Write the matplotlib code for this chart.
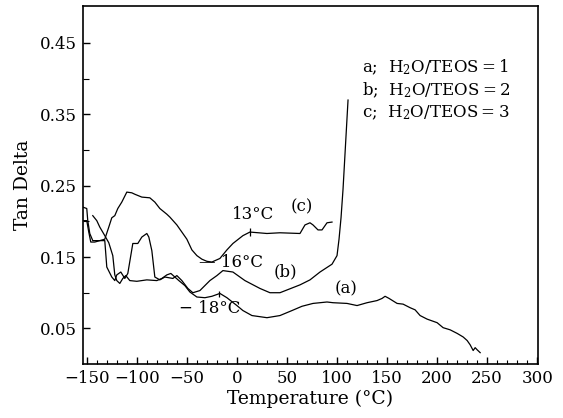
import numpy as np
import matplotlib
matplotlib.use('Agg')
import matplotlib.pyplot as plt
from matplotlib.ticker import MultipleLocator

SMALL_SIZE = 12
MEDIUM_SIZE = 13.5
plt.rcParams['font.family'] = ['DejaVu Serif']
plt.rcParams['mathtext.default'] = 'regular'
plt.rc('font', size=SMALL_SIZE)
plt.rc('axes', labelsize=MEDIUM_SIZE)
plt.rc('xtick', labelsize=SMALL_SIZE)
plt.rc('ytick', labelsize=SMALL_SIZE)

# curve (a): H2O/TEOS = 1
temp_a = [-144, -140, -137, -132, -128, -124, -122, -120, -117, -114, -111, -107, -100,
          -90, -80, -75, -70, -66, -62, -58, -52, -47, -40, -32, -25, -17, -10, 0, 6,
          15, 30, 43, 55, 65, 76, 90, 96, 110, 120, 130, 140, 145, 148, 152, 160, 166,
          173, 178, 183, 190, 200, 206, 213, 220, 226, 230, 233, 236, 238, 240, 243]
tan_a = [0.208, 0.201, 0.192, 0.180, 0.170, 0.152, 0.125, 0.117, 0.113, 0.120, 0.124,
         0.117, 0.116, 0.118, 0.117, 0.120, 0.125, 0.127, 0.122, 0.117, 0.110, 0.101,
         0.094, 0.093, 0.095, 0.099, 0.093, 0.082, 0.075, 0.068, 0.065, 0.068, 0.075,
         0.081, 0.085, 0.087, 0.086, 0.085, 0.082, 0.086, 0.089, 0.092, 0.095, 0.092,
         0.085, 0.084, 0.079, 0.076, 0.068, 0.063, 0.058, 0.051, 0.048, 0.043, 0.038,
         0.033, 0.027, 0.019, 0.023, 0.020, 0.016]

# curve (b): H2O/TEOS = 2
temp_b = [-154, -150, -149, -147, -144, -137, -132, -130, -125, -122, -120, -116, -112,
          -109, -104, -99, -95, -90, -88, -85, -82, -77, -72, -64, -60, -55, -49, -44,
          -37, -27, -20, -14, -4, 8, 23, 33, 43, 63, 73, 83, 95, 100, 102, 104, 106,
          108, 111]
tan_b = [0.220, 0.218, 0.201, 0.183, 0.173, 0.173, 0.173, 0.136, 0.122, 0.117, 0.125,
         0.129, 0.120, 0.127, 0.169, 0.169, 0.178, 0.183, 0.178, 0.159, 0.122, 0.118,
         0.122, 0.120, 0.124, 0.117, 0.106, 0.100, 0.103, 0.117, 0.124, 0.131, 0.129,
         0.117, 0.106, 0.100, 0.100, 0.111, 0.118, 0.129, 0.140, 0.152, 0.175, 0.205,
         0.245, 0.295, 0.370]

# curve (c): H2O/TEOS = 3
temp_c = [-154, -150, -148, -146, -142, -137, -132, -128, -125, -122, -119, -115, -110,
          -105, -102, -95, -87, -82, -77, -70, -67, -60, -55, -50, -45, -40, -35, -30,
          -25, -17, -10, -4, 6, 13, 30, 43, 63, 68, 73, 76, 81, 85, 90, 95]
tan_c = [0.201, 0.201, 0.185, 0.171, 0.171, 0.173, 0.175, 0.192, 0.205, 0.208, 0.218,
         0.227, 0.241, 0.240, 0.238, 0.234, 0.233, 0.227, 0.218, 0.210, 0.206, 0.195,
         0.185, 0.175, 0.160, 0.152, 0.147, 0.144, 0.143, 0.148, 0.160, 0.169, 0.180,
         0.185, 0.183, 0.184, 0.183, 0.195, 0.198, 0.195, 0.188, 0.188, 0.198, 0.199]

xticks = np.arange(-150, 301, 50)
yticks = [0.05, 0.15, 0.25, 0.35, 0.45]

fig = plt.figure(figsize=(5.63, 4.18), dpi=100)
ax = fig.add_axes([0.147, 0.129, 0.809, 0.857])

plt.plot(temp_a, tan_a, '-', c='black', lw=0.9)
plt.plot(temp_b, tan_b, '-', c='black', lw=0.9)
plt.plot(temp_c, tan_c, '-', c='black', lw=0.9)

# short marks on the curves at the transition temperatures
plt.plot([13], [np.interp(13, temp_c, tan_c)], '|', c='black', ms=6, mew=0.9)
plt.plot([-18], [np.interp(-18, temp_a, tan_a)], '|', c='black', ms=5, mew=0.9)

plt.text(16, 0.210, '13°C', ha='center', va='center')
plt.text(65, 0.220, '(c)', ha='center', va='center')
plt.text(-6, 0.142, '\u2014 16°C', ha='center', va='center')
plt.text(48, 0.129, '(b)', ha='center', va='center')
plt.text(-27, 0.078, '\u2212 18°C', ha='center', va='center')
plt.text(109, 0.106, '(a)', ha='center', va='center')

plt.text(125, 0.416, 'a;  H$_2$O/TEOS\u2009=\u20091', ha='left', va='center')
plt.text(125, 0.384, 'b;  H$_2$O/TEOS\u2009=\u20092', ha='left', va='center')
plt.text(125, 0.352, 'c;  H$_2$O/TEOS\u2009=\u20093', ha='left', va='center')

plt.xlim(-154, 301)
plt.ylim(0, 0.502)
ax.set_xticks(xticks)
ax.set_xticklabels(['%d' % v if v >= 0 else '\u2212%d' % -v for v in xticks])
ax.set_yticks(yticks)
ax.set_yticklabels(['%.2f' % v for v in yticks])
ax.xaxis.set_minor_locator(MultipleLocator(10))
ax.set_yticks([0.10, 0.20, 0.30, 0.40], minor=True)
ax.tick_params(which='major', direction='in', length=5, width=1.0, pad=4)
ax.tick_params(which='minor', direction='in', length=3, width=0.8)
ax.tick_params(axis='y', which='minor', length=4)
for s in ax.spines.values():
    s.set_linewidth(1.2)

plt.xlabel('Temperature (°C)', labelpad=2)
plt.ylabel('Tan Delta', labelpad=6)

plt.savefig('out.png', dpi=100)
